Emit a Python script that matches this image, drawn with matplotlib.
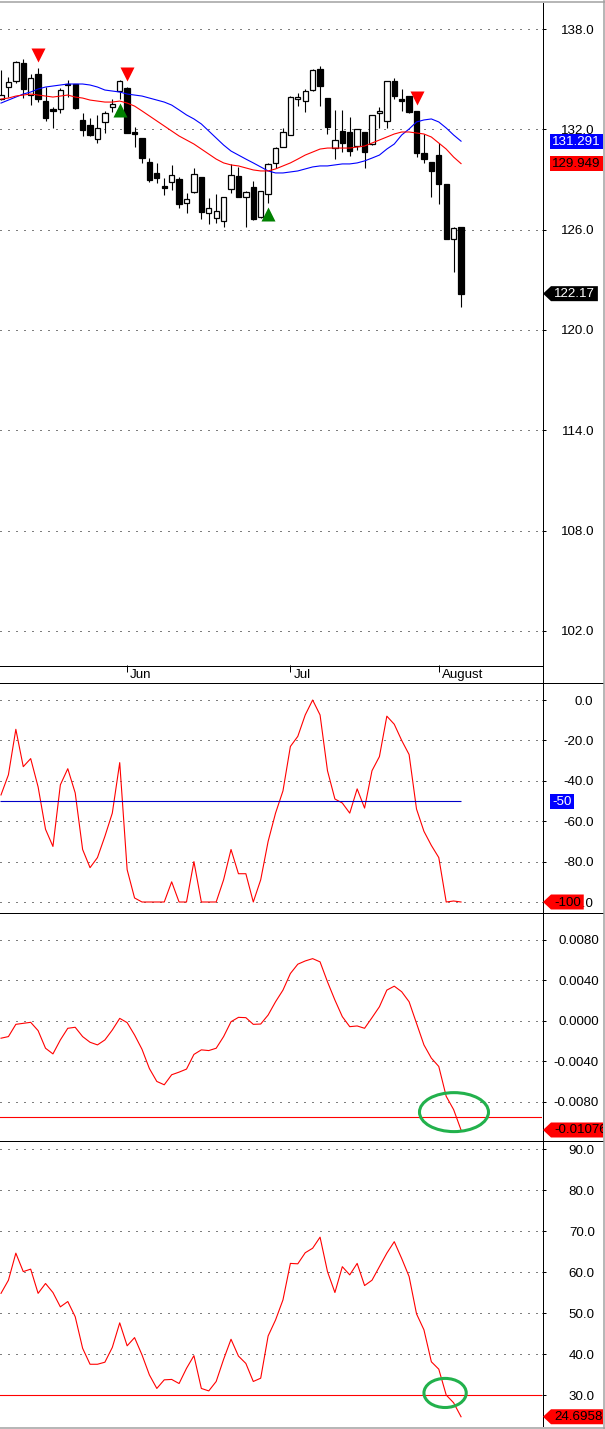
import matplotlib
matplotlib.use('Agg')
import matplotlib.pyplot as plt
from matplotlib.patches import Rectangle, Polygon, Ellipse
from matplotlib.lines import Line2D
from matplotlib.transforms import IdentityTransform, Bbox

plt.rcParams['font.family'] = ['Liberation Sans', 'DejaVu Sans']
plt.rcParams['font.size'] = 9.6

# daily bars, oldest first
opens = [133.81, 134.53, 134.89, 135.97, 134.05, 135.31, 133.69, 133.16, 133.22, 134.71,
         134.71, 132.56, 132.26, 131.42, 132.44, 133.33, 134.29, 134.47, 131.84, 131.48,
         130.05, 129.39, 128.61, 128.85, 129.03, 127.59, 128.25, 129.15, 127.00, 126.70,
         126.52, 128.43, 129.21, 127.95, 128.55, 126.76, 128.13, 129.99, 130.94, 131.66,
         133.81, 133.69, 134.35, 135.61, 133.87, 130.88, 131.90, 131.84, 131.00, 131.84,
         131.12, 132.98, 132.50, 134.89, 133.78, 133.99, 133.10, 130.58, 130.05, 130.46,
         128.73, 125.44, 126.16]
highs = [135.55, 135.13, 136.09, 136.21, 135.31, 135.67, 134.53, 133.33, 134.47, 134.95,
         134.71, 132.98, 132.68, 132.86, 133.10, 133.81, 134.95, 134.53, 132.14, 131.48,
         130.28, 129.99, 129.09, 129.87, 129.15, 128.19, 129.69, 129.15, 127.89, 128.13,
         127.95, 129.93, 129.75, 128.31, 128.91, 128.31, 129.99, 130.94, 132.08, 133.99,
         134.17, 134.41, 135.61, 135.79, 133.87, 133.16, 133.16, 132.74, 132.02, 131.84,
         132.86, 133.33, 134.89, 135.07, 134.41, 133.99, 133.10, 131.72, 130.05, 131.18,
         128.73, 126.16, 126.16]
lows = [133.75, 133.93, 134.77, 133.87, 133.45, 133.63, 132.50, 132.08, 132.98, 133.93,
        133.22, 131.60, 131.60, 131.18, 131.78, 133.04, 133.81, 131.78, 130.94, 129.99,
        128.85, 128.79, 128.07, 128.37, 127.29, 127.00, 128.19, 126.64, 126.34, 126.40,
        126.16, 128.19, 127.95, 126.16, 126.58, 126.70, 127.59, 129.69, 130.94, 131.66,
        133.39, 133.04, 134.29, 133.39, 131.72, 130.22, 130.64, 130.40, 130.76, 129.69,
        131.06, 132.08, 132.08, 133.81, 133.10, 132.98, 130.34, 129.99, 127.95, 127.53,
        125.44, 123.47, 121.37]
closes = [134.05, 134.83, 136.03, 134.41, 135.07, 133.81, 132.68, 133.10, 134.35, 134.65,
          133.28, 131.96, 131.66, 132.08, 132.98, 133.51, 134.89, 131.78, 131.72, 130.28,
          128.97, 129.09, 128.50, 129.27, 127.53, 127.83, 129.33, 127.06, 127.29, 127.11,
          127.95, 129.27, 127.95, 128.25, 126.64, 128.31, 129.93, 130.88, 131.84, 133.93,
          133.93, 134.29, 135.55, 134.59, 132.14, 131.36, 131.18, 130.70, 132.02, 130.64,
          132.86, 132.98, 134.89, 133.99, 133.72, 133.04, 130.58, 130.22, 129.51, 128.73,
          125.44, 126.10, 122.17]

# moving averages (red = fast, blue = slow)
ma_fast = [133.81, 133.87, 133.99, 134.05, 134.11, 134.05, 133.99, 133.93, 133.99, 134.05,
           133.93, 133.87, 133.75, 133.69, 133.63, 133.63, 133.69, 133.57, 133.39, 133.10,
           132.80, 132.50, 132.20, 131.90, 131.60, 131.36, 131.12, 130.82, 130.52, 130.22,
           129.99, 129.87, 129.81, 129.69, 129.57, 129.51, 129.51, 129.63, 129.81, 129.99,
           130.22, 130.46, 130.64, 130.82, 130.88, 130.88, 130.88, 130.88, 130.94, 131.00,
           131.18, 131.36, 131.54, 131.72, 131.84, 131.84, 131.78, 131.72, 131.54, 131.18,
           130.82, 130.34, 129.949]
ma_slow = [133.57, 133.75, 133.93, 134.11, 134.23, 134.41, 134.53, 134.59, 134.65, 134.71,
           134.71, 134.71, 134.65, 134.53, 134.35, 134.29, 134.23, 134.11, 134.05, 133.99,
           133.87, 133.75, 133.63, 133.45, 133.16, 132.86, 132.62, 132.32, 131.90, 131.48,
           131.06, 130.70, 130.46, 130.22, 129.99, 129.75, 129.51, 129.39, 129.39, 129.45,
           129.51, 129.63, 129.75, 129.81, 129.81, 129.87, 129.93, 129.93, 129.99, 130.11,
           130.28, 130.46, 130.82, 131.12, 131.66, 132.02, 132.44, 132.56, 132.62, 132.44,
           132.08, 131.66, 131.291]

williams_r = [-47, -37, -14.5, -33, -29, -43, -64, -72.5, -42, -34,
              -46, -74, -83, -78, -67.5, -56, -31, -84, -98, -100,
              -100, -100, -100, -90, -100, -100, -80, -100, -100, -100,
              -89, -74, -86, -86, -100, -89, -70, -56, -45, -23,
              -18, -7.4, 0, -7.4, -35, -49, -51, -56, -44, -53.5,
              -35, -28, -8, -12, -20, -27, -54, -65, -72, -78,
              -100, -99.5, -100]

oscillator = [-0.00170, -0.00154, -0.00033, -0.00023, -0.00013, -0.00095, -0.00269, -0.00325, -0.00187, -0.00072,
              -0.00062, -0.00154, -0.00210, -0.00236, -0.00187, -0.00089, 0.00026, -0.00016, -0.00138, -0.00279,
              -0.00470, -0.00597, -0.00630, -0.00531, -0.00505, -0.00475, -0.00330, -0.00285, -0.00292, -0.00269,
              -0.00154, -0.00007, 0.00036, 0.00033, -0.00033, -0.00030, 0.00059, 0.00190, 0.00305, 0.00469,
              0.00561, 0.00593, 0.00616, 0.00584, 0.00387, 0.00207, 0.00043, -0.00056, -0.00049, -0.00072,
              0.00033, 0.00141, 0.00305, 0.00344, 0.00289, 0.00190, -0.00023, -0.00236, -0.00367, -0.00449,
              -0.00744, -0.00875, -0.010765]

rsi = [54.8, 58.0, 64.6, 60.1, 60.7, 54.8, 57.2, 55.0, 51.5, 52.8,
       49.1, 41.4, 37.5, 37.5, 38.0, 41.6, 47.6, 42.0, 44.0, 39.8,
       34.9, 31.6, 33.7, 33.8, 32.8, 36.5, 39.6, 31.6, 31.0, 33.3,
       38.7, 43.6, 39.5, 37.7, 33.3, 34.1, 44.4, 48.3, 53.2, 62.1,
       62.0, 64.7, 65.8, 68.5, 60.1, 55.0, 61.3, 59.3, 62.1, 56.7,
       58.0, 61.3, 64.6, 67.4, 63.3, 58.9, 49.8, 45.9, 38.1, 36.3,
       30.0, 28.1, 24.6958]

sell_signals = [5, 17, 56]
buy_signals = [16, 36]

month_labels = ['Jun', 'Jul', 'August']
month_starts = [17, 39, 59]

price_ticks = [102, 108, 114, 120, 126, 132, 138]
wr_ticks = [0, -20, -40, -60, -80, -100]
osc_ticks = [0.008, 0.004, 0.0, -0.004, -0.008]
rsi_ticks = [30, 40, 50, 60, 70, 80, 90]

wr_level = -50
osc_level = -0.0095
rsi_level = 30

# hand-drawn green circles (center x, center y, width, height in data units)
osc_circle = (61.05, -0.0090, 9.3, 0.00385)
rsi_circle = (59.85, 30.5, 5.7, 7.1)

W, H = 605, 1429
AXIS_X = 542
XLIM = (-0.135, -0.135 + AXIS_X / 7.42)
GREEN = '#22b14c'
DOTS = (0, (1, 7))


def fig_line(fig, x0, y0, x1, y1, color='black', lw=1.0):
    fig.add_artist(Line2D([x0 / W, x1 / W], [1 - y0 / H, 1 - y1 / H],
                          color=color, lw=lw * 0.72, transform=fig.transFigure))


def make_panel(fig, top, bottom, ylim, ticks=None, fmt='%.1f', pad=35):
    ax = fig.add_axes([0, 1 - bottom / H, AXIS_X / W, (bottom - top) / H])
    ax.set_xlim(XLIM)
    ax.set_ylim(ylim)
    ax.patch.set_alpha(0)
    for s in ax.spines.values():
        s.set_visible(False)
    ax.set_xticks([])
    if ticks is None:
        ax.set_yticks([])
        return ax
    ax.yaxis.tick_right()
    ax.set_yticks(ticks)
    ax.set_yticklabels([fmt % t for t in ticks], ha='right')
    ax.tick_params(axis='y', length=3, width=0.72, pad=pad, colors='black')
    ax.grid(axis='y', color='black', linestyle=DOTS, lw=0.72)
    return ax


def value_tag(fig, renderer, ax, value, text, face, color, arrow):
    y = ax.transData.transform((0, value))[1]
    left = AXIS_X + 1 if arrow else 550
    tx = left + (11 if arrow else 2)
    t = fig.text(tx, y - 0.5, text, transform=IdentityTransform(), color=color,
                 ha='left', va='center', zorder=6)
    t.set_clip_box(Bbox.from_extents(0, 0, 603, H))
    right = min(t.get_window_extent(renderer).x1 + 3, 603)
    if arrow:
        verts = [(left, y), (left + 8, y + 7.5), (right, y + 7.5), (right, y - 7.5), (left + 8, y - 7.5)]
    else:
        verts = [(left, y + 7.5), (right, y + 7.5), (right, y - 7.5), (left, y - 7.5)]
    fig.add_artist(Polygon(verts, closed=True, facecolor=face, edgecolor='none',
                           transform=IdentityTransform(), zorder=5))


def plot_chart():
    fig = plt.figure(figsize=(W / 100, H / 100), dpi=100)
    fig.patch.set_facecolor('white')
    idx = list(range(len(closes)))

    # price panel
    ax1 = make_panel(fig, 2, 665, (99.96, 139.615), price_ticks, '%.1f', 35)
    ax1.vlines(idx, lows, highs, color='black', lw=0.8, zorder=2)
    for i in idx:
        o, c = opens[i], closes[i]
        bottom = min(o, c)
        height = max(abs(c - o), 0.09)
        face = 'white' if c >= o else 'black'
        ax1.add_patch(Rectangle((i - 0.36, bottom), 0.72, height, facecolor=face,
                                edgecolor='black', lw=0.9, zorder=3))
    ax1.plot(idx, ma_slow, color='#0000ff', lw=0.8, zorder=4)
    ax1.plot(idx, ma_fast, color='#ff0000', lw=0.8, zorder=4)
    ax1.plot(sell_signals, [highs[i] + 0.78 for i in sell_signals], 'v', color='#ff0000',
             ms=10.5, mec='none', zorder=5)
    ax1.plot(buy_signals, [lows[i] - 0.68 for i in buy_signals], '^', color='#008000',
             ms=10.5, mec='none', zorder=5)

    # date strip
    axd = make_panel(fig, 665, 683, (0, 1))
    axd.vlines(month_starts, 0.6, 1.0, color='black', lw=0.72)
    for m, lab in zip(month_starts, month_labels):
        axd.annotate(lab, (m, 0.45), xytext=(2.2, 0), textcoords='offset points',
                     ha='left', va='center')

    # Williams %R
    ax2 = make_panel(fig, 683, 912, (-104.95, 8.42), wr_ticks, '%.1f', 34)
    ax2.plot(idx, williams_r, color='#ff0000', lw=0.8)
    ax2.hlines(wr_level, idx[0] - 0.1, idx[-1], color='#0000c8', lw=0.8)

    # oscillator
    ax3 = make_panel(fig, 912, 1140, (-0.011753, 0.010765), osc_ticks, '%.4f', 38)
    ax3.plot(idx, oscillator, color='#ff0000', lw=0.8)
    ax3.axhline(osc_level, color='#ff0000', lw=0.8)
    cx, cy, w, h = osc_circle
    ax3.add_patch(Ellipse((cx, cy), w, h, fill=False, edgecolor=GREEN, lw=2.2, zorder=5))

    # RSI
    ax4 = make_panel(fig, 1140, 1426, (22.44, 92.2), rsi_ticks, '%.1f', 35)
    ax4.plot(idx, rsi, color='#ff0000', lw=0.8)
    ax4.axhline(rsi_level, color='#ff0000', lw=0.8)
    cx, cy, w, h = rsi_circle
    ax4.add_patch(Ellipse((cx, cy), w, h, fill=False, edgecolor=GREEN, lw=2.2, zorder=5))

    # frame and separators
    fig_line(fig, AXIS_X + 0.5, 3, AXIS_X + 0.5, 1426)
    fig_line(fig, 0, 665.5, AXIS_X, 665.5)
    for y in (683.5, 912.5, 1140.5):
        fig_line(fig, 0, y, 603, y)
    fig_line(fig, 0, 1.5, W, 1.5, color='#a0a0a0', lw=1.5)
    fig_line(fig, 0, 1427.5, W, 1427.5, color='#a0a0a0', lw=1.5)
    fig_line(fig, 603.5, 0, 603.5, H, color='#a0a0a0', lw=1.5)

    # last-value tags on the right axis
    renderer = fig.canvas.get_renderer()
    value_tag(fig, renderer, ax1, ma_slow[-1], f'{ma_slow[-1]:.3f}', '#0000ff', 'white', False)
    value_tag(fig, renderer, ax1, ma_fast[-1], f'{ma_fast[-1]:.3f}', '#ff0000', 'black', False)
    value_tag(fig, renderer, ax1, closes[-1], f'{closes[-1]:.2f}', 'black', 'white', True)
    value_tag(fig, renderer, ax2, wr_level, f'{wr_level}', '#0000ff', 'white', False)
    value_tag(fig, renderer, ax2, williams_r[-1], f'{williams_r[-1]:.0f}', '#ff0000', 'black', True)
    value_tag(fig, renderer, ax3, oscillator[-1], f'{oscillator[-1]:.6f}', '#ff0000', 'black', True)
    value_tag(fig, renderer, ax4, rsi[-1], f'{rsi[-1]:.4f}', '#ff0000', 'black', True)

    fig.savefig('out.png', dpi=100)
    plt.close(fig)


if __name__ == '__main__':
    plot_chart()
